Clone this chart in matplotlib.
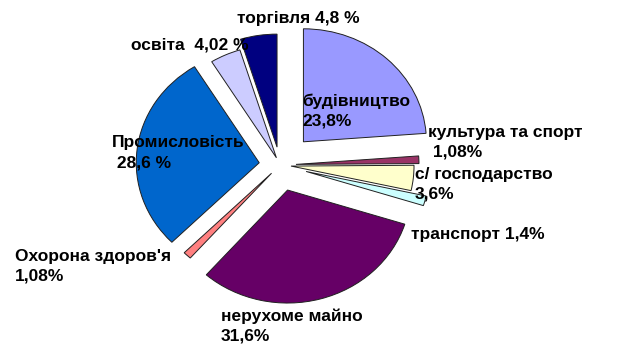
import matplotlib
matplotlib.use('Agg')
import matplotlib.pyplot as plt

# sectors, clockwise from 12 o'clock
sectors = ['будівництво', 'культура та спорт', 'с/ господарство', 'транспорт',
           'нерухоме майно', "Охорона здоров'я", 'Промисловість', 'освіта', 'торгівля']
shares = [23.8, 1.08, 3.6, 1.4, 31.6, 1.08, 28.6, 4.02, 4.8]
colors = ['#9999FF', '#993366', '#FFFFCC', '#CCFFFF', '#660066',
          '#FF8080', '#0066CC', '#CCCCFF', '#000080']
explode = [0.28, 0.13, 0.09, 0.22, 0.23, 0.1, 0.17, 0.07, 0.16]

# label texts as on the picture
label_lines = [
    ['будівництво', '23,8%'],
    ['культура та спорт', ' 1,08%'],
    ['с/ господарство', '3,6%'],
    ['транспорт 1,4%'],
    ['нерухоме майно', '31,6%'],
    ["Охорона здоров'я", '1,08%'],
    ['Промисловість', ' 28,6 %'],
    ['освіта  4,02 %'],
    ['торгівля 4,8 %'],
]
# pixel position of the first line (left, vertical centre)
label_pos = [(302, 101), (428, 132), (415, 174), (411, 234), (221, 316),
             (15, 256), (112, 143), (131, 45), (237, 18)]
line_step = 20

W, H = 619, 348
CX, CY = 280, 165      # pie centre in pixels
SX, SY = 123, 113      # picture is stretched: wider than tall


def px(x):
    return (x - CX) / SX


def py(y):
    return (CY - y) / SY


fig = plt.figure(figsize=(W / 100, H / 100), dpi=100)
ax = fig.add_axes([0, 0, 1, 1])
ax.pie(shares, colors=colors, explode=explode, startangle=90, counterclock=False,
       radius=1, wedgeprops=dict(edgecolor='#202020', linewidth=0.7))
ax.set_aspect('auto')
ax.set_xlim(px(0), px(W))
ax.set_ylim(py(H), py(0))
ax.axis('off')

for lines, (x, y) in zip(label_lines, label_pos):
    for i, line in enumerate(lines):
        ax.text(px(x), py(y + i * line_step), line, ha='left', va='center',
                fontsize=12.5, fontweight='bold', family=['Liberation Sans', 'DejaVu Sans'],
                color='black')

fig.savefig('out.png', dpi=100, facecolor='white')
